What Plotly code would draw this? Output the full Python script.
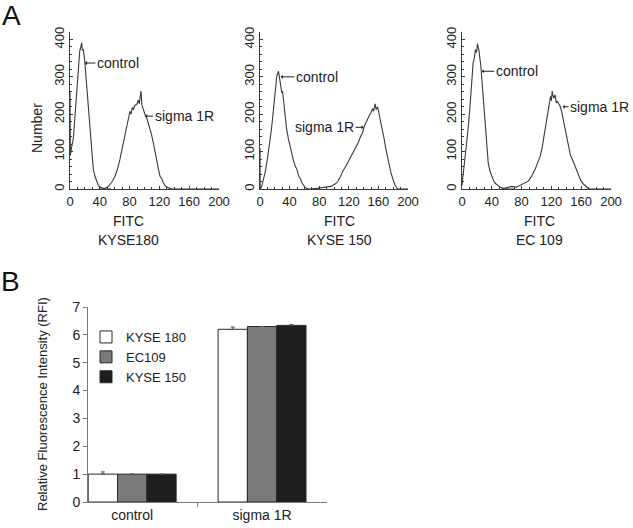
import plotly.graph_objects as go

# ---------------- Panel A data (FITC channel vs. cell number) ----------------
kyse180_ctrl_x = [0, 0.5, 2, 4.5, 6.7, 9, 11, 13, 14.5, 15.7, 16.5, 18, 20, 22.4, 24.6, 26.8, 29, 31.3, 33.5, 35.8, 38, 40.3, 43.5, 47, 55]
kyse180_ctrl_y = [260, 90, 110, 135, 195, 255, 318, 368, 380, 391, 372, 373, 337, 275, 212, 150, 87, 52, 34, 20, 10, 5, 2, 0, 0]
kyse180_sig_x = [40, 44.7, 51.5, 56, 60.4, 64, 67, 70.5, 73.8, 76, 78.3, 80.5, 82, 83.5, 85, 87, 89.5, 91.7, 93, 94.3, 95.3, 96.5, 98.4, 100.5, 103, 105, 107.4, 109.5, 111.9, 114, 116.4, 118.5, 120.8, 123, 125.3, 128, 132, 136.5, 150, 200]
kyse180_sig_y = [0, 0, 7, 18, 34, 55, 79, 110, 141, 165, 186, 208, 200, 218, 212, 224, 226, 238, 228, 245, 262, 225, 212, 200, 190, 178, 159, 145, 123, 100, 70, 55, 34, 28, 16, 8, 3, 0, 0, 0]

kyse150_ctrl_x = [0, 0.2, 2.3, 4.5, 6.8, 9, 11.4, 13.5, 15.9, 18.2, 20.5, 22.7, 25, 26, 27.3, 28.5, 29.5, 30.5, 31.8, 34, 36, 38.6, 41, 43, 45, 47.7, 50, 52.3, 54.5, 56.8, 59, 61.4, 66, 80]
kyse150_ctrl_y = [110, 0, 7, 22, 43, 68, 96, 130, 168, 221, 266, 302, 315, 300, 293, 270, 257, 262, 239, 195, 160, 132, 110, 87, 78, 61, 52, 34, 28, 16, 8, 3, 0, 0]
kyse150_sig_x = [70, 84, 95.5, 102, 105, 109, 112, 116, 119, 123, 126, 129.5, 133, 136, 138.5, 141, 143, 145.5, 148, 150, 152, 153.5, 155.5, 157, 159, 161, 163.6, 166, 168, 170, 172.7, 175, 177, 180, 182, 186, 200]
kyse150_sig_y = [0, 3, 7, 14, 20, 34, 48, 61, 72, 87, 98, 114, 125, 141, 150, 168, 178, 190, 198, 204, 215, 208, 228, 212, 220, 200, 177, 155, 132, 108, 87, 62, 43, 25, 12, 0, 0]

ec109_ctrl_x = [0, 1.4, 3.6, 6, 8.1, 10.5, 12.6, 14.9, 16.5, 18, 19.5, 20.8, 21.8, 22.6, 25.3, 28.4, 30.7, 32.9, 35.2, 37.5, 39.7, 42, 44.2, 47.5, 51, 57.8, 70]
ec109_ctrl_y = [10, 34, 70, 115, 159, 215, 266, 337, 350, 373, 365, 389, 378, 373, 329, 248, 177, 114, 70, 48, 34, 24, 16, 10, 5, 0, 0]
ec109_sig_x = [53, 60, 67, 73, 80, 85, 89, 93, 98, 101.5, 105, 107.5, 110, 112, 114, 116.5, 118.8, 120, 121, 122, 123.3, 125, 126.5, 128, 130, 132, 134.5, 136.8, 139, 141.3, 143.5, 145.8, 148, 150, 152.5, 155, 157, 159, 162.5, 166, 170.6, 200]
ec109_sig_y = [0, 4, 7, 5, 12, 15, 21, 33, 52, 70, 88, 110, 141, 165, 195, 220, 248, 236, 262, 250, 243, 252, 230, 235, 226, 220, 200, 180, 155, 132, 110, 88, 80, 70, 55, 43, 32, 25, 14, 7, 0, 0]

panel_names = ["KYSE180", "KYSE 150", "EC 109"]
fitc_ticks = [0, 40, 80, 120, 160, 200]
number_ticks = [0, 100, 200, 300, 400]

# ---------------- Panel B data (RFI bars) ----------------
groups = ["control", "sigma 1R"]
cell_lines = ["KYSE 180", "EC109", "KYSE 150"]
rfi_kyse180 = [1.0, 6.2]
rfi_ec109 = [1.0, 6.3]
rfi_kyse150 = [1.0, 6.34]
err_kyse180 = [0.08, 0.08]
err_ec109 = [0.0, 0.0]
err_kyse150 = [0.0, 0.03]
rfi_ticks = [0, 1, 2, 3, 4, 5, 6, 7]

FONT = "Arial, Liberation Sans, sans-serif"
TXT = "#222222"
LINE = "#3a3a3a"
W, H = 633, 528

def px(x):
    return x / W

def py(y):
    return 1 - y / H

fig = go.Figure()

curves = [
    (kyse180_ctrl_x, kyse180_ctrl_y, kyse180_sig_x, kyse180_sig_y),
    (kyse150_ctrl_x, kyse150_ctrl_y, kyse150_sig_x, kyse150_sig_y),
    (ec109_ctrl_x, ec109_ctrl_y, ec109_sig_x, ec109_sig_y),
]
for i, (cx, cy, sx, sy) in enumerate(curves):
    sfx = "" if i == 0 else str(i + 1)
    for xs, ys in ((cx, cy), (sx, sy)):
        fig.add_trace(go.Scatter(x=xs, y=ys, mode="lines",
                                 line=dict(color=LINE, width=1.1),
                                 xaxis="x" + sfx, yaxis="y" + sfx,
                                 showlegend=False, hoverinfo="skip"))

bar_colors = ["#ffffff", "#7a7a7a", "#1e1e1e"]
bar_vals = [rfi_kyse180, rfi_ec109, rfi_kyse150]
bar_errs = [err_kyse180, err_ec109, err_kyse150]
for name, col, vals, errs in zip(cell_lines, bar_colors, bar_vals, bar_errs):
    fig.add_trace(go.Bar(x=groups, y=vals, name=name,
                         marker=dict(color=col, line=dict(color="#2a2a2a", width=1)),
                         error_y=dict(type="data", array=errs, arrayminus=[0, 0],
                                      symmetric=False, color="#555555",
                                      thickness=1, width=2),
                         xaxis="x4", yaxis="y4"))

panel_x = [(70, 219), (260, 408), (462, 611)]
ydom = [py(189), py(32)]
layout = dict(
    width=W, height=H, autosize=False,
    margin=dict(l=0, r=0, t=0, b=0),
    paper_bgcolor="white", plot_bgcolor="white",
    font=dict(family=FONT, size=14, color=TXT),
    barmode="group", bargap=0.323, bargroupgap=0,
    showlegend=True,
    legend=dict(x=px(86), y=py(322), xanchor="left", yanchor="top",
                bgcolor="rgba(0,0,0,0)", font=dict(size=13, color=TXT),
                itemclick=False, tracegroupgap=0),
)
for i, (x0, x1) in enumerate(panel_x):
    sfx = "" if i == 0 else str(i + 1)
    layout["xaxis" + sfx] = dict(
        domain=[px(x0), px(x1)], anchor="y" + sfx, range=[0, 200],
        tickmode="array", tickvals=fitc_ticks, ticks="inside", ticklen=3,
        tickcolor=LINE, showline=True, linecolor=LINE, linewidth=1,
        showgrid=False, zeroline=False, tickfont=dict(size=13, color=TXT),
        automargin=False,
        minor=dict(dtick=10, tick0=0, ticks="inside", ticklen=2, tickcolor=LINE, showgrid=False),
    )
    layout["yaxis" + sfx] = dict(
        domain=ydom, anchor="x" + sfx, range=[0, 420],
        tickmode="array", tickvals=number_ticks, ticks="inside", ticklen=3,
        tickcolor=LINE, showline=True, linecolor=LINE, linewidth=1,
        showgrid=False, zeroline=False, tickangle=-90, automargin=False,
        tickfont=dict(size=13, color=TXT),
        minor=dict(dtick=20, tick0=0, ticks="inside", ticklen=2, tickcolor=LINE, showgrid=False),
    )

layout["xaxis4"] = dict(
    domain=[px(88), px(327)], anchor="y4", type="category",
    categoryorder="array", categoryarray=groups, range=[-0.34, 1.5],
    tickson="boundaries", ticks="outside", ticklen=4, tickcolor="#777777",
    showline=True, linecolor="#777777", linewidth=1, showgrid=False,
    tickfont=dict(size=14, color=TXT), automargin=False,
)
layout["yaxis4"] = dict(
    domain=[py(502), py(307)], anchor="x4", range=[0, 7],
    tickmode="array", tickvals=rfi_ticks, ticks="outside", ticklen=4,
    tickcolor="#777777", showline=True, linecolor="#777777", linewidth=1,
    showgrid=False, zeroline=False, tickfont=dict(size=14, color=TXT),
    automargin=False,
)

def label(text, x, y, size, angle=0, color=TXT):
    return dict(text=text, x=px(x), y=py(y), xref="paper", yref="paper",
                xanchor="center", yanchor="middle", textangle=angle,
                showarrow=False, font=dict(size=size, color=color))

annotations = [
    label("A", 11, 15, 28, color="#111111"),
    label("B", 10, 281, 28, color="#111111"),
    label("Number", 37, 128, 14, angle=-90),
    label("Relative Fluorescence Intensity (RFI)", 42, 404, 13, angle=-90),
]
title_x = [128, 339, 539]
for name, tx in zip(panel_names, title_x):
    annotations.append(label("FITC", tx, 221, 14))
    annotations.append(label(name, tx, 240, 14))

# arrow labels: (axis suffix, text, tip x, tip y, horizontal offset)
arrow_labels = [
    ("", "control", 20, 337, 33),
    ("", "sigma 1R", 100.7, 195, 39),
    ("2", "control", 28, 300, 36),
    ("2", "sigma 1R", 140, 165, -39),
    ("3", "control", 26.5, 315, 35),
    ("3", "sigma 1R", 135, 220, 37),
]
for sfx, text, ax_, ay_, off in arrow_labels:
    annotations.append(dict(text=text, x=ax_, y=ay_, xref="x" + sfx, yref="y" + sfx,
                            showarrow=True, ax=off, ay=0, arrowhead=1, arrowsize=0.7,
                            arrowwidth=1, arrowcolor="#222222",
                            font=dict(size=14, color=TXT)))
layout["annotations"] = annotations

fig.update_layout(**layout)
fig.write_html("out.html", config={"displayModeBar": False},
               post_script="document.body.style.margin='0';")
